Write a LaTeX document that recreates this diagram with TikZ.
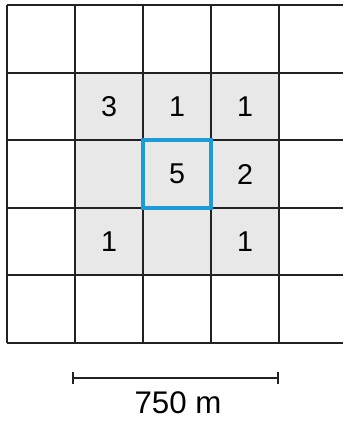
\documentclass[tikz,border=0pt]{standalone}
\usepackage{fontspec}
\setmainfont{Liberation Sans}
\usetikzlibrary{arrows.meta}

\definecolor{cellgrey}{HTML}{E8E8E8}
\definecolor{focusblue}{HTML}{1B9BD7}
\definecolor{gridline}{HTML}{222222}

\begin{document}
\begin{tikzpicture}[x=0.02cm, y=-0.02cm,
    gridstyle/.style={line width=1.2pt, draw=gridline},
    count/.style={inner sep=0pt, font=\fontsize{16.3}{18}\selectfont},
    scalelabel/.style={inner sep=0pt, anchor=base, font=\fontsize{17.8}{20}\selectfont}]
    \useasboundingbox (0,0) rectangle (343,423);

    % neighbourhood cells
    \fill[cellgrey] (75,72.6) rectangle (279,275.4);

    % grid
    \foreach \gx in {7,75,143,211,279}
        \draw[gridstyle] (\gx,5) -- (\gx,343);
    \foreach \gy in {5,72.6,140.2,207.8,275.4,343}
        \draw[gridstyle] (7,\gy) -- (343,\gy);

    % centre cell
    \draw[line width=2.1pt, focusblue] (143,140.2) rectangle (211,207.8);

    % counts
    \node[count] (c11) at (109,106.4) {3};
    \node[count] (c12) at (177,106.4) {1};
    \node[count] (c13) at (245,106.4) {1};
    \node[count] (c22) at (177,174) {5};
    \node[count] (c23) at (245,174) {2};
    \node[count] (c31) at (109,241.6) {1};
    \node[count] (c33) at (245,241.6) {1};

    % scale bar
    \coordinate (barL) at (72,378);
    \coordinate (barR) at (279,378);
    \draw[line width=1.1pt, draw=gridline, {Bar[width=6.5pt]}-{Bar[width=6.5pt]}] (barL) -- (barR);
    \node[scalelabel] (barlabel) at (178,413) {750 m};
\end{tikzpicture}
\end{document}
